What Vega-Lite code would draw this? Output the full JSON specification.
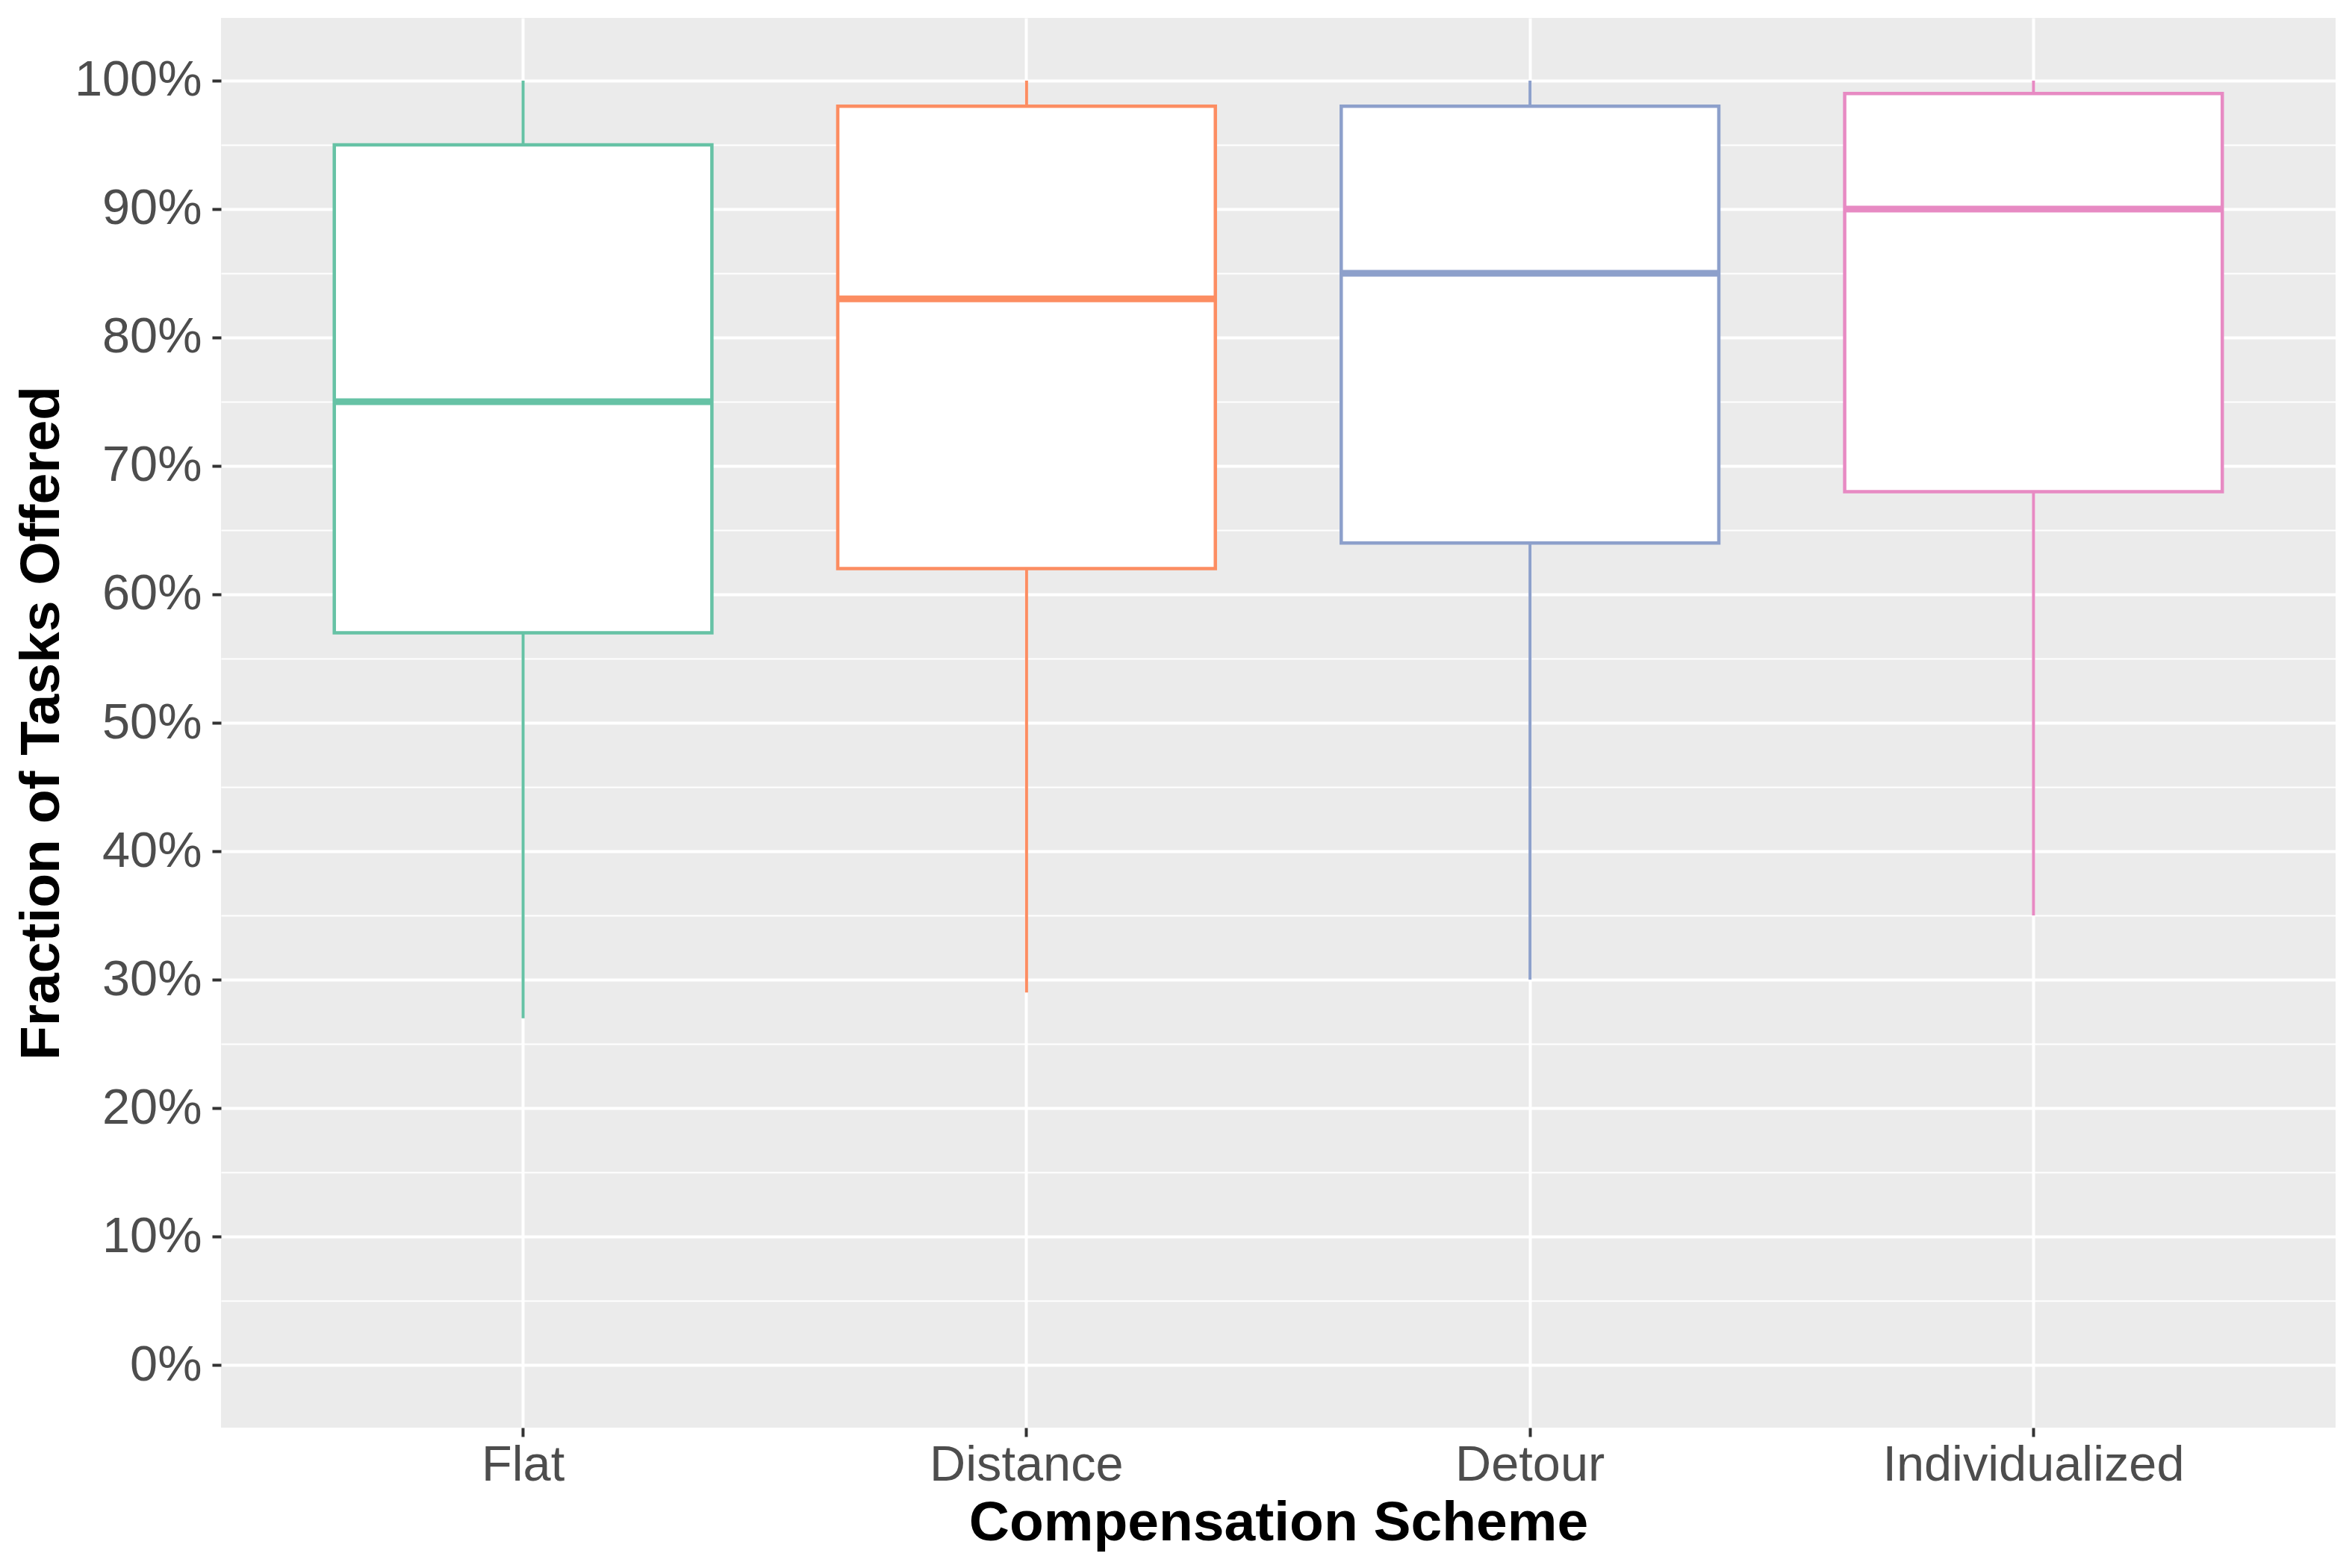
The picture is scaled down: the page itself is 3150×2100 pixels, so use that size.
{
  "$schema": "https://vega.github.io/schema/vega-lite/v6.json",
  "width": 2832,
  "height": 1888,
  "autosize": {"type": "none"},
  "padding": {"left": 296, "top": 24, "right": 22, "bottom": 188},
  "background": "white",
  "config": {
    "view": {"fill": "#EBEBEB", "stroke": null},
    "font": "Liberation Sans"
  },
  "data": {
    "values": [
      {"scheme": "Flat", "lower": 0.27, "q1": 0.57, "median": 0.75, "q3": 0.95, "upper": 1.0},
      {"scheme": "Distance", "lower": 0.29, "q1": 0.62, "median": 0.83, "q3": 0.98, "upper": 1.0},
      {"scheme": "Detour", "lower": 0.30, "q1": 0.64, "median": 0.85, "q3": 0.98, "upper": 1.0},
      {"scheme": "Individualized", "lower": 0.35, "q1": 0.68, "median": 0.90, "q3": 0.99, "upper": 1.0}
    ]
  },
  "encoding": {
    "x": {
      "field": "scheme",
      "type": "nominal",
      "sort": ["Flat", "Distance", "Detour", "Individualized"],
      "scale": {"paddingInner": 0.25, "paddingOuter": 0.225},
      "axis": {
        "title": "Compensation Scheme",
        "titleFont": "Liberation Sans",
        "titleFontSize": 75,
        "titleFontWeight": "bold",
        "titleColor": "#000000",
        "titleBaseline": "alphabetic",
        "titleY": 150,
        "labelFont": "Liberation Sans",
        "labelFontSize": 66.7,
        "labelColor": "#4D4D4D",
        "labelAngle": 0,
        "labelBaseline": "alphabetic",
        "labelPadding": 58,
        "labelLimit": 0,
        "labelOverlap": false,
        "tickColor": "#333333",
        "tickWidth": 4,
        "tickSize": 12,
        "domain": false,
        "grid": true,
        "gridColor": "#FFFFFF",
        "gridWidth": 4,
        "bandPosition": 0.5
      }
    },
    "color": {
      "field": "scheme",
      "type": "nominal",
      "scale": {
        "domain": ["Flat", "Distance", "Detour", "Individualized"],
        "range": ["#66C2A5", "#FC8D62", "#8DA0CB", "#E78AC3"]
      },
      "legend": null
    }
  },
  "layer": [
    {
      "mark": {"type": "rule", "strokeWidth": 4},
      "encoding": {
        "y": {
          "field": "lower",
          "type": "quantitative",
          "scale": {"domain": [-0.0488, 1.0488], "nice": false, "zero": false},
          "axis": {
            "title": "Fraction of Tasks Offered",
            "titleFont": "Liberation Sans",
            "titleFontSize": 75,
            "titleFontWeight": "bold",
            "titleColor": "#000000",
            "titleBaseline": "alphabetic",
            "titleX": -218,
            "titleY": 944,
            "titleAngle": -90,
            "values": [0, 0.05, 0.1, 0.15, 0.2, 0.25, 0.3, 0.35, 0.4, 0.45, 0.5, 0.55, 0.6, 0.65, 0.7, 0.75, 0.8, 0.85, 0.9, 0.95, 1.0],
            "labelExpr": "round(datum.value*100) % 10 == 0 ? format(datum.value, '.0%') : ''",
            "labelFont": "Liberation Sans",
            "labelFontSize": 66.7,
            "labelColor": "#4D4D4D",
            "labelPadding": 14,
            "labelLimit": 0,
            "labelOverlap": false,
            "tickColor": "#333333",
            "tickWidth": 4,
            "tickSize": 12,
            "tickOpacity": {"condition": {"test": "round(datum.value*100) % 10 != 0", "value": 0}, "value": 1},
            "domain": false,
            "grid": true,
            "gridColor": "#FFFFFF",
            "gridWidth": {"condition": {"test": "round(datum.value*100) % 10 != 0", "value": 2}, "value": 4}
          }
        },
        "y2": {"field": "upper"}
      }
    },
    {
      "mark": {"type": "bar", "fill": "#FFFFFF", "strokeWidth": 4.5},
      "encoding": {
        "y": {"field": "q1", "type": "quantitative"},
        "y2": {"field": "q3"},
        "stroke": {
          "field": "scheme",
          "type": "nominal",
          "scale": {
            "domain": ["Flat", "Distance", "Detour", "Individualized"],
            "range": ["#66C2A5", "#FC8D62", "#8DA0CB", "#E78AC3"]
          },
          "legend": null
        }
      }
    },
    {
      "mark": {"type": "tick", "size": 506, "thickness": 9, "opacity": 1},
      "encoding": {
        "y": {"field": "median", "type": "quantitative"}
      }
    }
  ]
}
